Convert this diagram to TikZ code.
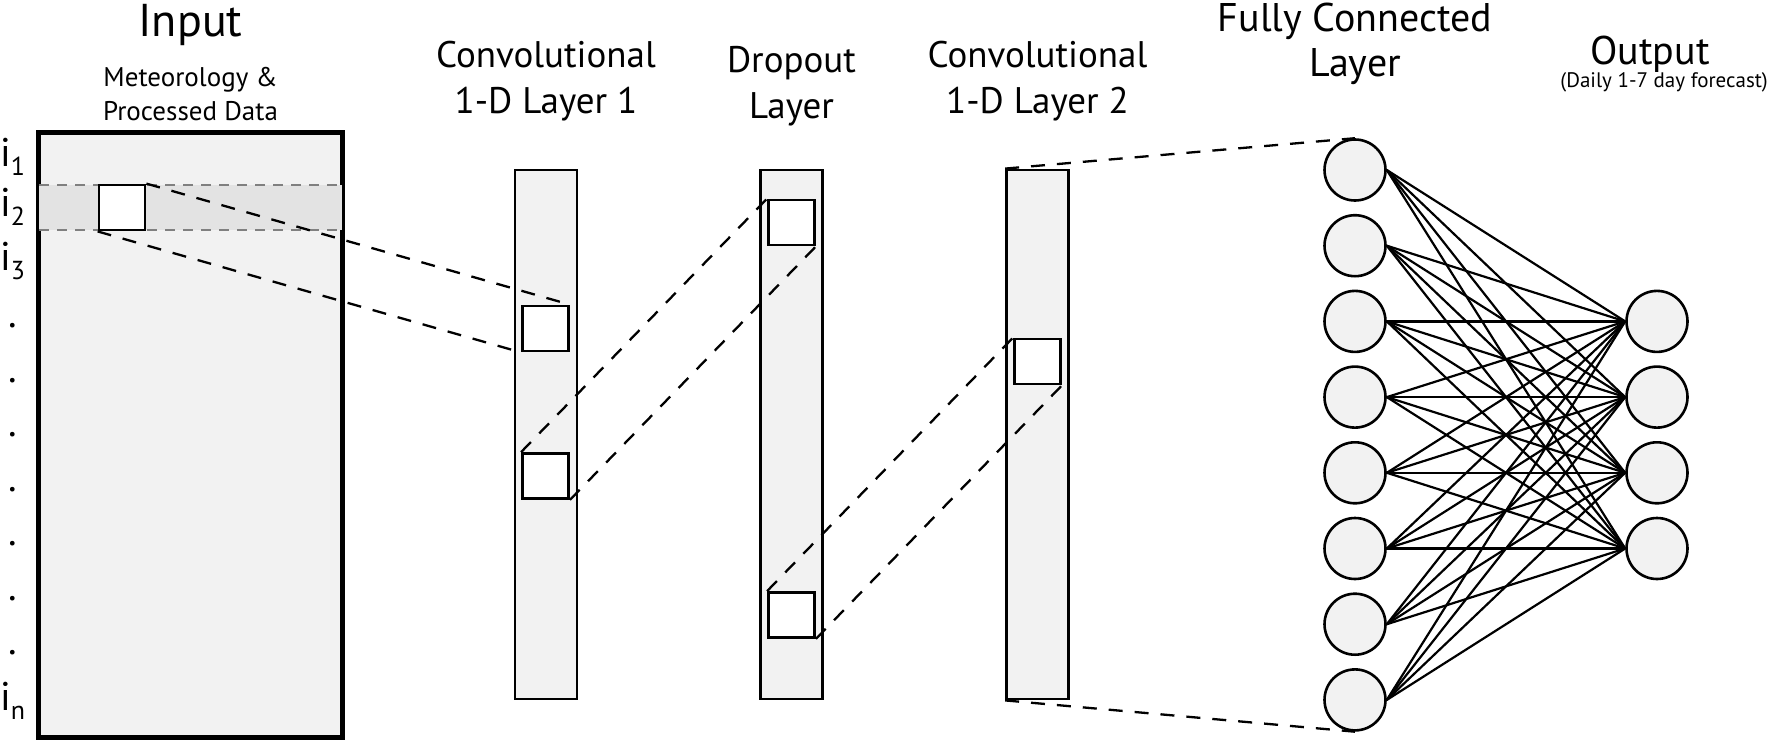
\documentclass[tikz,border=0pt]{standalone}
\usepackage{fontspec}
\setmainfont{PT Sans}
\usetikzlibrary{positioning}
\definecolor{boxgray}{HTML}{F2F2F2}
\definecolor{bandgray}{HTML}{E3E3E3}
\newcommand{\ilab}[1]{i\raisebox{-9pt}{\fontsize{26}{26}\selectfont #1}}
\tikzset{
    layer/.style={draw, line width=2.8pt, fill=boxgray, inner sep=0pt},
    kernel/.style={draw, line width=2.8pt, fill=white, inner sep=0pt, minimum width=46, minimum height=45},
    neuron/.style={circle, draw, line width=2.6pt, fill=boxgray, minimum size=61, inner sep=0pt},
    link/.style={line width=2.3pt, dash pattern=on 14pt off 12pt},
    weight/.style={line width=2.2pt},
    title/.style={anchor=base, inner sep=0pt, font=\fontsize{37}{37}\selectfont},
    subtitle/.style={anchor=base, inner sep=0pt, font=\fontsize{27}{27}\selectfont},
    rowlab/.style={anchor=base west, inner sep=0pt, font=\fontsize{40}{40}\selectfont}
}

\begin{document}
\begin{tikzpicture}[x=1pt, y=-1pt]
\useasboundingbox (0,0) rectangle (1772,742);

% input matrix
\node[layer, line width=3.4pt, minimum width=303, minimum height=604] (input) at (190.5,435) {};
\fill[bandgray] (39,185) rectangle (342,230);
\draw[gray, line width=1.8pt, dash pattern=on 10pt off 8pt] (39,185) -- (342,185) (39,230) -- (342,230);
\draw[line width=3.4pt] (input.north west) rectangle (input.south east);
\node[kernel] (inSq) at (122,207.5) {};

% row labels
\node[rowlab] (i1) at (0,166) {\ilab{1}};
\node[rowlab] (i2) at (0,216) {\ilab{2}};
\node[rowlab] (i3) at (0,270) {\ilab{3}};
\foreach \k in {0,...,6}
    \node[rowlab, anchor=base] (dot\k) at (13,{327.5+54.5*\k}) {.};
\node[rowlab] (in) at (0,710) {\ilab{n}};

% conv / dropout columns
\node[layer, minimum width=62, minimum height=529] (c1) at (546,434.5) {};
\node[layer, minimum width=62, minimum height=529] (dp) at (791.5,434.5) {};
\node[layer, minimum width=62, minimum height=529] (c2) at (1037.5,434.5) {};
\node[kernel] (c1a) at (545.5,328.5) {};
\node[kernel] (c1b) at (545.5,476) {};
\node[kernel] (dpa) at (791.5,222.5) {};
\node[kernel] (dpb) at (791.5,615) {};
\node[kernel] (c2a) at (1037.5,361.5) {};

% dense layers
\foreach \k in {1,...,8}
    \node[neuron] (fc\k) at (1355,{170+75.7*(\k-1)}) {};
\foreach \k in {1,...,4}
    \node[neuron] (out\k) at (1657,{321.4+75.7*(\k-1)}) {};
\foreach \a in {1,...,8}
    \foreach \b in {1,...,4}
        \draw[weight] (fc\a.east) -- (out\b.west);

% receptive fields
\draw[link] (inSq.north east) -- (c1a.north east);
\draw[link] (inSq.south west) -- (c1a.south west);
\draw[link] (c1b.north west) -- (dpa.north west);
\draw[link] (c1b.south east) -- (dpa.south east);
\draw[link] (dpb.north west) -- (c2a.north west);
\draw[link] (dpb.south east) -- (c2a.south east);
\draw[link] (c2.north west) -- (fc1.north);
\draw[link] (c2.south west) -- (fc8.south);

% titles
\node[title, font=\fontsize{46}{46}\selectfont] (tIn) at (190.5,36) {Input};
\node[subtitle] (tMet) at (190.5,86) {Meteorology \&};
\node[subtitle] (tProc) at (190.5,120) {Processed Data};
\node[title] (tC1a) at (546,67) {Convolutional};
\node[title] (tC1b) at (546,113) {1-D Layer 1};
\node[title] (tDpa) at (791.5,72) {Dropout};
\node[title] (tDpb) at (791.5,118) {Layer};
\node[title] (tC2a) at (1037.5,67) {Convolutional};
\node[title] (tC2b) at (1037.5,113) {1-D Layer 2};
\node[title, font=\fontsize{40}{40}\selectfont] (tFca) at (1355,31) {Fully Connected};
\node[title, font=\fontsize{40}{40}\selectfont] (tFcb) at (1355,76) {Layer};
\node[title, font=\fontsize{40}{40}\selectfont] (tOut) at (1650,64) {Output};
\node[subtitle, anchor=base east, font=\fontsize{21}{21}\selectfont] (tOutb) at (1768,87) {(Daily 1-7 day forecast)};
\end{tikzpicture}
\end{document}
